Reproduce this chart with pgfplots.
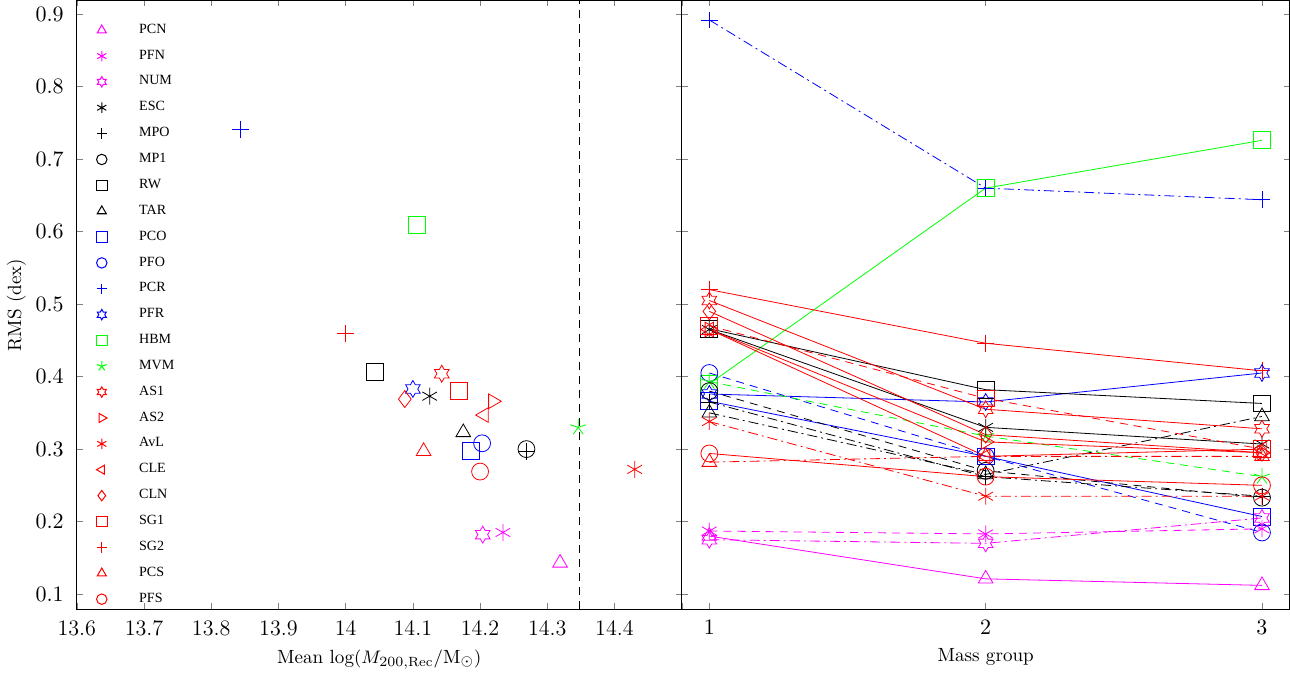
\documentclass[border=0pt]{standalone}
\usepackage{pgfplots}
\pgfplotsset{compat=1.18}
\usepackage{fontspec}
\newfontfamily\tms{Liberation Serif}
\pgfdeclareplotmark{hexagram}{%
\pgfpathmoveto{\pgfpointpolar{90}{\pgfplotmarksize}}%
\pgfpathlineto{\pgfpointpolar{120}{0.577\pgfplotmarksize}}%
\pgfpathlineto{\pgfpointpolar{150}{\pgfplotmarksize}}%
\pgfpathlineto{\pgfpointpolar{180}{0.577\pgfplotmarksize}}%
\pgfpathlineto{\pgfpointpolar{210}{\pgfplotmarksize}}%
\pgfpathlineto{\pgfpointpolar{240}{0.577\pgfplotmarksize}}%
\pgfpathlineto{\pgfpointpolar{270}{\pgfplotmarksize}}%
\pgfpathlineto{\pgfpointpolar{300}{0.577\pgfplotmarksize}}%
\pgfpathlineto{\pgfpointpolar{330}{\pgfplotmarksize}}%
\pgfpathlineto{\pgfpointpolar{0}{0.577\pgfplotmarksize}}%
\pgfpathlineto{\pgfpointpolar{30}{\pgfplotmarksize}}%
\pgfpathlineto{\pgfpointpolar{60}{0.577\pgfplotmarksize}}%
\pgfpathclose\pgfusepathqstroke}
\definecolor{gr}{rgb}{0,1,0}
\definecolor{mg}{rgb}{1,0,1}
\definecolor{rd}{rgb}{1,0,0}
\definecolor{bl}{rgb}{0,0,1}
\definecolor{bk}{rgb}{0,0,0}
\tikzset{
 ddot/.style={dash pattern=on 5pt off 2pt on 1pt off 2pt},
 dsh/.style={dash pattern=on 4pt off 3pt},
}
\pgfplotsset{
 mk/.style 2 args={color=#1, draw=#1, mark=#2, mark options={solid,draw=#1,fill=none}},
 mkr/.style n args={3}{color=#1, draw=#1, mark=#2, mark options={solid,draw=#1,fill=none,rotate=#3}},
 mPCN/.style={mk={mg}{triangle}},
 mPFN/.style={mk={mg}{asterisk}},
 mNUM/.style={mk={mg}{hexagram}},
 mESC/.style={mk={bk}{asterisk}},
 mMPO/.style={mk={bk}{+}},
 mMP1/.style={mk={bk}{o}},
 mRW/.style={mk={bk}{square}},
 mTAR/.style={mk={bk}{triangle}},
 mPCO/.style={mk={bl}{square}},
 mPFO/.style={mk={bl}{o}},
 mPCR/.style={mk={bl}{+}},
 mPFR/.style={mk={bl}{hexagram}},
 mHBM/.style={mk={gr}{square}},
 mMVM/.style={mk={gr}{star}},
 mAS1/.style={mk={rd}{hexagram}},
 mAS2/.style={mkr={rd}{triangle}{-90}},
 mAvL/.style={mk={rd}{asterisk}},
 mCLE/.style={mkr={rd}{triangle}{90}},
 mCLN/.style={mk={rd}{diamond}},
 mSG1/.style={mk={rd}{square}},
 mSG2/.style={mk={rd}{+}},
 mPCS/.style={mk={rd}{triangle}},
 mPFS/.style={mk={rd}{o}},
 every tick label/.append style={font=\fontsize{11}{13}\selectfont},
 every axis label/.append style={font=\fontsize{9.5}{11}\selectfont},
}
\begin{document}
\begin{tikzpicture}
\begin{axis}[name=L, scale only axis, width=301pt, height=303pt,
 xmin=13.6, xmax=14.5, ymin=0.079, ymax=0.919,
 xtick={13.6,13.7,...,14.45}, ytick={0.1,0.2,...,0.95},
 xticklabels={13.6,13.7,13.8,13.9,14,14.1,14.2,14.3,14.4},
 yticklabel style={/pgf/number format/fixed,/pgf/number format/precision=1, xshift=-3pt},
 xticklabel style={yshift=-2pt},
 ylabel={RMS (dex)}, xlabel={Mean $\log(M_{200,\mathrm{Rec}}/\mathrm{M}_\odot)$},
 ylabel style={yshift=-2pt}, tick align=inside, major tick length=3pt,
 legend style={draw=none,fill=none,at={(0.022,0.975)},anchor=north west,
   font=\tms\fontsize{7}{8}\selectfont, row sep=2.75pt, /tikz/column 1/.style={column sep=14pt}},
 legend cell align=left,
 every axis plot/.append style={mark size=4.2pt}]
\pgfplotsinvokeforeach{PCN,PFN,NUM,ESC,MPO,MP1,RW,TAR,PCO,PFO,PCR,PFR,HBM,MVM,AS1,AS2,AvL,CLE,CLN,SG1,SG2,PCS,PFS}{
 \addlegendimage{only marks, m#1, mark size=2.6pt, line width=0.5pt}
}
\legend{PCN,PFN,NUM,ESC,MPO,MP1,RW,TAR,PCO,PFO,PCR,PFR,HBM,MVM,AS1,AS2,AvL,CLE,CLN,SG1,SG2,PCS,PFS}
\draw[dsh, thin] (axis cs:14.348,0.079) -- (axis cs:14.348,0.919);
\addplot[only marks,mPCR,forget plot] coordinates {(13.843,0.741)};
\addplot[only marks,mHBM,forget plot] coordinates {(14.106,0.609)};
\addplot[only marks,mSG2,forget plot] coordinates {(14.0,0.459)};
\addplot[only marks,mRW,forget plot] coordinates {(14.043,0.406)};
\addplot[only marks,mPFR,forget plot] coordinates {(14.1,0.383)};
\addplot[only marks,mESC,forget plot] coordinates {(14.125,0.373)};
\addplot[only marks,mAS1,forget plot] coordinates {(14.143,0.404)};
\addplot[only marks,mSG1,forget plot] coordinates {(14.169,0.38)};
\addplot[only marks,mCLN,forget plot] coordinates {(14.088,0.369)};
\addplot[only marks,mAS2,forget plot] coordinates {(14.219,0.366)};
\addplot[only marks,mCLE,forget plot] coordinates {(14.206,0.347)};
\addplot[only marks,mTAR,forget plot] coordinates {(14.175,0.323)};
\addplot[only marks,mPCS,forget plot] coordinates {(14.116,0.297)};
\addplot[only marks,mPCO,forget plot] coordinates {(14.187,0.297)};
\addplot[only marks,mPFO,forget plot] coordinates {(14.203,0.308)};
\addplot[only marks,mMP1,forget plot] coordinates {(14.269,0.300)};
\addplot[only marks,mMPO,forget plot] coordinates {(14.269,0.297)};
\addplot[only marks,mPFS,forget plot] coordinates {(14.2,0.269)};
\addplot[only marks,mMVM,forget plot] coordinates {(14.346,0.33)};
\addplot[only marks,mAvL,forget plot] coordinates {(14.43,0.272)};
\addplot[only marks,mNUM,forget plot] coordinates {(14.204,0.182)};
\addplot[only marks,mPFN,forget plot] coordinates {(14.234,0.185)};
\addplot[only marks,mPCN,forget plot] coordinates {(14.319,0.143)};
\end{axis}
\begin{axis}[at={(L.south east)}, anchor=south west, scale only axis, width=302.5pt, height=303pt,
 xmin=0.9, xmax=3.1, ymin=0.079, ymax=0.919, xtick={1,2,3}, ytick={0.1,0.2,...,0.95},
 xticklabel style={yshift=-2pt},
 yticklabels={}, xlabel={Mass group}, tick align=inside, major tick length=3pt,
 every axis plot/.append style={thin, mark size=4.2pt}]
\addplot[mPCR,ddot] coordinates {(1,0.892)(2,0.66)(3,0.644)};
\addplot[mHBM] coordinates {(1,0.39)(2,0.66)(3,0.726)};
\addplot[mSG2] coordinates {(1,0.52)(2,0.446)(3,0.408)};
\addplot[mPFR] coordinates {(1,0.376)(2,0.365)(3,0.405)};
\addplot[mPCO] coordinates {(1,0.366)(2,0.29)(3,0.207)};
\addplot[mPFO,dsh] coordinates {(1,0.405)(2,0.29)(3,0.185)};
\addplot[mMVM,dsh] coordinates {(1,0.393)(2,0.318)(3,0.262)};
\addplot[mRW] coordinates {(1,0.466)(2,0.382)(3,0.363)};
\addplot[mESC] coordinates {(1,0.465)(2,0.330)(3,0.307)};
\addplot[mTAR,ddot] coordinates {(1,0.35)(2,0.265)(3,0.345)};
\addplot[mMP1,dsh] coordinates {(1,0.38)(2,0.27)(3,0.233)};
\addplot[mMPO,ddot] coordinates {(1,0.365)(2,0.262)(3,0.235)};
\addplot[mAS1] coordinates {(1,0.505)(2,0.355)(3,0.328)};
\addplot[mAS2] coordinates {(1,0.465)(2,0.31)(3,0.295)};
\addplot[mAvL,ddot] coordinates {(1,0.338)(2,0.235)(3,0.235)};
\addplot[mCLE] coordinates {(1,0.465)(2,0.29)(3,0.30)};
\addplot[mCLN] coordinates {(1,0.49)(2,0.32)(3,0.295)};
\addplot[mSG1,dsh] coordinates {(1,0.47)(2,0.37)(3,0.30)};
\addplot[mPFS] coordinates {(1,0.294)(2,0.262)(3,0.25)};
\addplot[mPCS,ddot] coordinates {(1,0.282)(2,0.29)(3,0.29)};
\addplot[mPCN] coordinates {(1,0.18)(2,0.121)(3,0.112)};
\addplot[mPFN,dsh] coordinates {(1,0.187)(2,0.183)(3,0.19)};
\addplot[mNUM,ddot] coordinates {(1,0.175)(2,0.17)(3,0.205)};
\end{axis}
\end{tikzpicture}
\end{document}
